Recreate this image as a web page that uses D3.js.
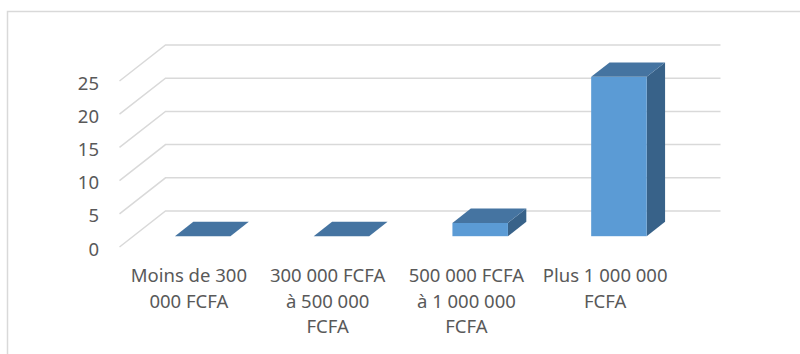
<!DOCTYPE html>
<html lang="fr">
  <head>
    <script src="https://d3js.org/d3.v7.min.js"></script>
    <meta charset="UTF-8" />
    <title>Revenus</title>
    <style>
      body { margin: 0; background: #fff; }
      text { font-family: "Noto Sans", "Open Sans", sans-serif; fill: #595959; }
    </style>
  </head>
  <body>
    <svg width="800" height="354"></svg>
    <script>
      // data
      var categories = ["Moins de 300 000 FCFA", "300 000 FCFA à 500 000 FCFA",
                        "500 000 FCFA à 1 000 000 FCFA", "Plus 1 000 000 FCFA"];
      var categoryLines = [
        ["Moins de 300", "000 FCFA"],
        ["300 000 FCFA", "à 500 000", "FCFA"],
        ["500 000 FCFA", "à 1 000 000", "FCFA"],
        ["Plus 1 000 000", "FCFA"]
      ];
      var values = [0, 0, 2, 24];
      var yTicks = [0, 5, 10, 15, 20, 25];

      var svg = d3.select("svg");

      // outer chart border
      svg.append("rect")
        .attr("x", 7.5).attr("y", 11.5)
        .attr("width", 1000).attr("height", 1000)
        .attr("fill", "none")
        .attr("stroke", "#d9d9d9")
        .attr("stroke-width", 1.5);

      // front plane scales + oblique depth
      var x = d3.scaleBand().domain(categories).range([119.5, 674.5]);
      var y = d3.scaleLinear().domain([0, 25]).range([247, 81]);
      var depthX = 46, depthY = -36;
      function px(xx, d) { return xx + depthX * d; }
      function py(yy, d) { return yy + depthY * d; }

      // gridlines (side wall diagonal + back wall)
      svg.append("g").selectAll("path")
        .data(yTicks)
        .enter().append("path")
        .attr("d", function (v) {
          var x0 = x.range()[0], x1 = x.range()[1];
          return "M" + x0 + "," + y(v) +
            "L" + px(x0, 1) + "," + py(y(v), 1) +
            "L" + px(x1, 1) + "," + py(y(v), 1);
        })
        .attr("fill", "none")
        .attr("stroke", "#d9d9d9")
        .attr("stroke-width", 1.5);

      // y labels
      svg.append("g").selectAll("text")
        .data(yTicks)
        .enter().append("text")
        .attr("x", 99)
        .attr("y", function (v) { return y(v) + 8.5; })
        .attr("text-anchor", "end")
        .attr("font-size", "18.5px")
        .text(function (v) { return v; });

      // bars: front face at depth 0.3, back at 0.7
      var d0 = 0.3, d1 = 0.7;
      var barW = x.bandwidth() * 0.4;
      var bars = svg.append("g").selectAll("g")
        .data(values)
        .enter().append("g");

      function barX(i) { return x(categories[i]) + (x.bandwidth() - barW) / 2; }

      // right side face
      bars.append("path")
        .attr("d", function (v, i) {
          var xr = barX(i) + barW, yt = y(v), yb = y(0);
          return "M" + px(xr, d0) + "," + py(yb, d0) +
            "L" + px(xr, d1) + "," + py(yb, d1) +
            "L" + px(xr, d1) + "," + py(yt, d1) +
            "L" + px(xr, d0) + "," + py(yt, d0) + "Z";
        })
        .attr("fill", "#386289");

      // front face
      bars.append("rect")
        .attr("x", function (v, i) { return px(barX(i), d0); })
        .attr("y", function (v) { return py(y(v), d0); })
        .attr("width", barW)
        .attr("height", function (v) { return y(0) - y(v); })
        .attr("fill", "#5b9bd5");

      // top face
      bars.append("path")
        .attr("d", function (v, i) {
          var xl = barX(i), xr = xl + barW, yt = y(v);
          return "M" + px(xl, d0) + "," + py(yt, d0) +
            "L" + px(xr, d0) + "," + py(yt, d0) +
            "L" + px(xr, d1) + "," + py(yt, d1) +
            "L" + px(xl, d1) + "," + py(yt, d1) + "Z";
        })
        .attr("fill", "#4574a1");

      // category labels
      var labels = svg.append("g").selectAll("text")
        .data(categoryLines)
        .enter().append("text")
        .attr("text-anchor", "middle")
        .attr("font-size", "18.5px")
        .attr("transform", function (d, i) {
          return "translate(" + (x(categories[i]) + x.bandwidth() / 2) + ",282)";
        });
      labels.selectAll("tspan")
        .data(function (d) { return d; })
        .enter().append("tspan")
        .attr("x", 0)
        .attr("y", function (d, j) { return j * 25.5; })
        .text(function (d) { return d; });
    </script>
  </body>
</html>
